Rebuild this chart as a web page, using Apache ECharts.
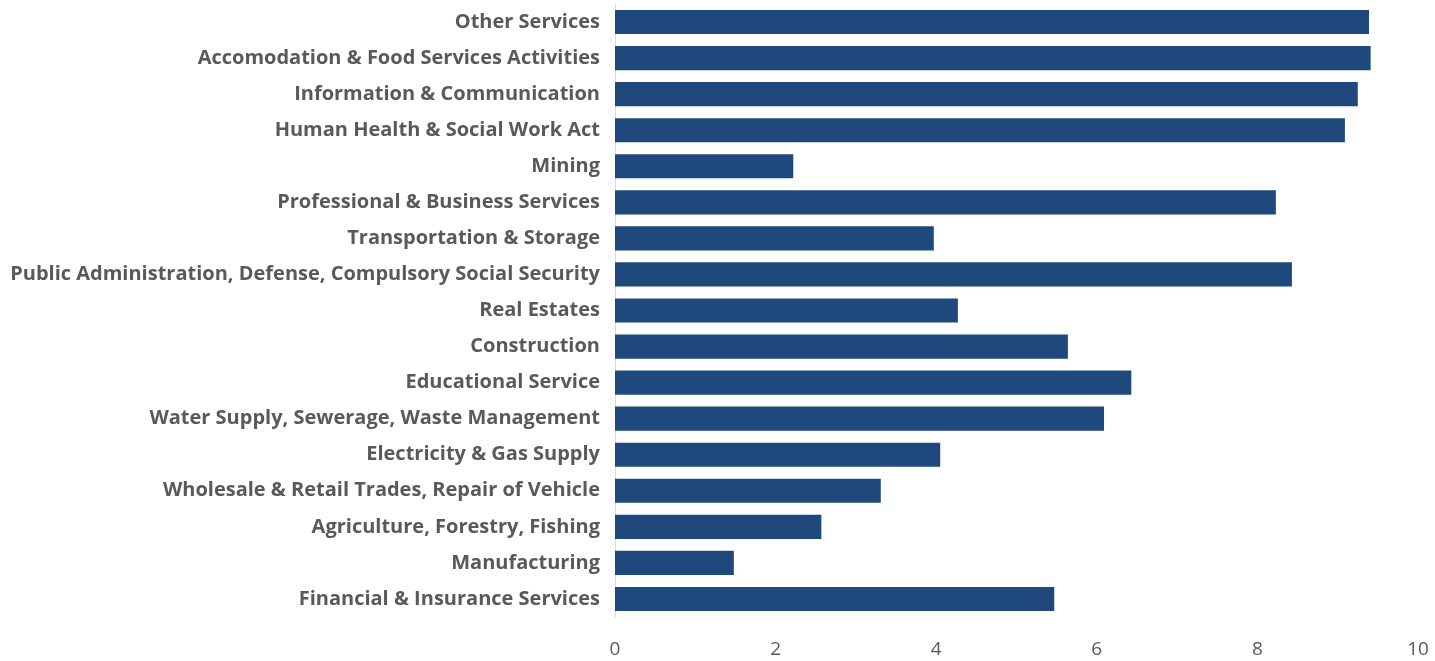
<!DOCTYPE html>
<html>
<head>
<meta charset="utf-8">
<script src="https://cdn.jsdelivr.net/npm/echarts@6/dist/echarts.min.js"></script>
<style>
  html, body { margin: 0; padding: 0; background: #fff; }
  #chart { width: 1435px; height: 661px; }
</style>
</head>
<body>
<div id="chart"></div>
<script>
// sectors, top to bottom as shown
const sectors = [
  'Other Services',
  'Accomodation & Food Services Activities',
  'Information & Communication',
  'Human Health & Social Work Act',
  'Mining',
  'Professional & Business Services',
  'Transportation & Storage',
  'Public Administration, Defense, Compulsory Social Security',
  'Real Estates',
  'Construction',
  'Educational Service',
  'Water Supply, Sewerage, Waste Management',
  'Electricity & Gas Supply',
  'Wholesale & Retail Trades, Repair of Vehicle',
  'Agriculture, Forestry, Fishing',
  'Manufacturing',
  'Financial & Insurance Services'
];

const values = [
  9.39, 9.41, 9.25, 9.09, 2.22, 8.23, 3.97, 8.43, 4.27,
  5.64, 6.43, 6.09, 4.05, 3.31, 2.57, 1.48, 5.47
];

const axisMin = 0;
const axisMax = 10;
const axisStep = 2;

const labelColor = '#595959';

const chart = echarts.init(document.getElementById('chart'));

chart.setOption({
  animation: false,
  grid: { left: 615, right: 17, top: 4, bottom: 44, containLabel: false },
  xAxis: {
    type: 'value',
    min: axisMin,
    max: axisMax,
    interval: axisStep,
    axisLine: { show: false },
    axisTick: { show: false },
    splitLine: { show: false },
    axisLabel: {
      color: labelColor,
      fontFamily: 'Open Sans',
      fontSize: 19,
      margin: 23
    }
  },
  yAxis: {
    type: 'category',
    data: sectors,
    inverse: true,
    axisLine: { show: true, lineStyle: { color: '#d9d9d9', width: 1 } },
    axisTick: { show: false },
    axisLabel: {
      color: labelColor,
      fontFamily: 'Open Sans',
      fontWeight: 'bold',
      fontSize: 20,
      margin: 15,
      padding: [3, 0, 0, 0]
    }
  },
  series: [{
    type: 'bar',
    data: values,
    barCategoryGap: '33%',
    itemStyle: { color: '#1f497d' }
  }]
});
</script>
</body>
</html>
